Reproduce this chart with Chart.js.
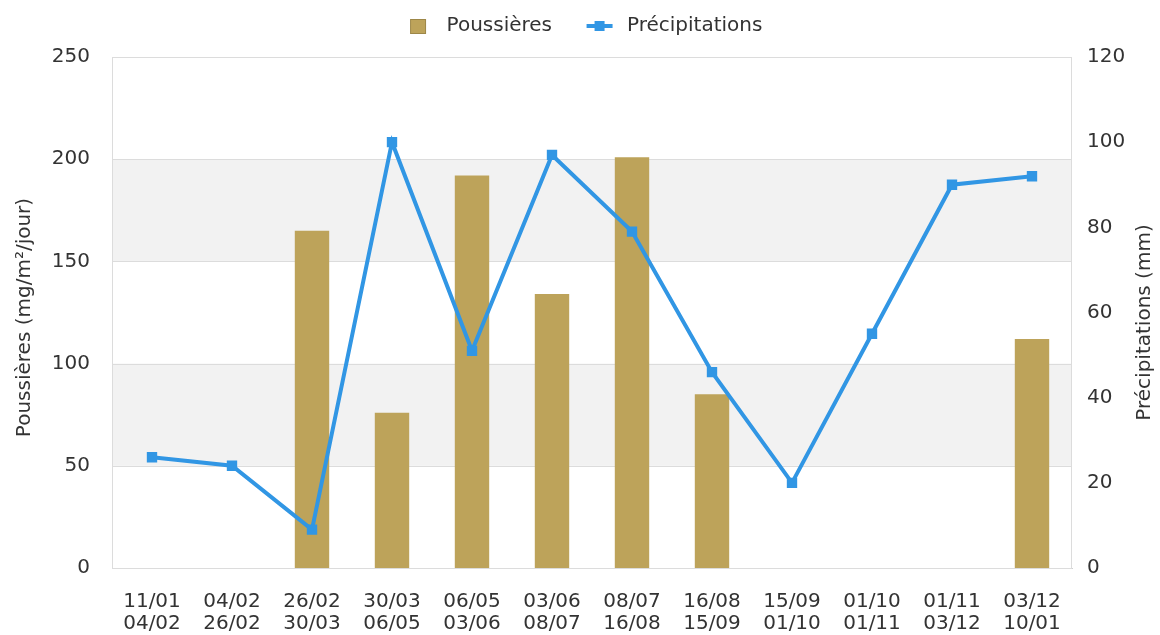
<!DOCTYPE html>
<html>
<head>
<meta charset="utf-8">
<script src="https://cdn.jsdelivr.net/npm/chart.js@4/dist/chart.umd.min.js"></script>
<style>
html,body{margin:0;padding:0;background:#fff;}
#wrap{width:1160px;height:635px;position:relative;}
</style>
</head>
<body>
<div id="wrap"><canvas id="c" width="1160" height="635"></canvas></div>
<script>
const categories = [
  ['11/01','04/02'], ['04/02','26/02'], ['26/02','30/03'], ['30/03','06/05'],
  ['06/05','03/06'], ['03/06','08/07'], ['08/07','16/08'], ['16/08','15/09'],
  ['15/09','01/10'], ['01/10','01/11'], ['01/11','03/12'], ['03/12','10/01']
];
const dustValues = [null, null, 165, 76, 192, 134, 201, 85, null, null, null, 112];
const rainValues = [26, 24, 9, 100, 51, 97, 79, 46, 20, 55, 90, 92];
const dustTicks = [0, 50, 100, 150, 200, 250];
const rainTicks = [0, 20, 40, 60, 80, 100, 120];
const dustLabel = 'Poussières';
const rainLabel = 'Précipitations';
const dustAxisTitle = 'Poussières (mg/m²/jour)';
const rainAxisTitle = 'Précipitations (mm)';

const BAR = '#bda35a';
const LINE = '#3196e4';
const TEXT = '#333';
const FONT = 'DejaVu Sans';
const FS = 20;

function legendIcon(kind) {
  const cv = document.createElement('canvas');
  const g = cv.getContext('2d');
  cv.width = 38; cv.height = 18;
  if (kind === 'bar') {
    g.fillStyle = BAR; g.fillRect(11, 2, 16, 15);
    g.strokeStyle = '#9d8748'; g.lineWidth = 1; g.strokeRect(11.5, 2.5, 15, 14);
  } else {
    g.strokeStyle = LINE; g.lineWidth = 4;
    g.beginPath(); g.moveTo(7, 9); g.lineTo(33, 9); g.stroke();
    g.fillStyle = LINE; g.fillRect(15, 4, 10, 10);
  }
  return cv;
}
const icons = { bar: legendIcon('bar'), line: legendIcon('line') };

const bandsPlugin = {
  id: 'bands',
  afterInit(chart) {
    const L = chart.legend;
    if (L && !L._wrapped) {
      const orig = L.fit.bind(L);
      L.fit = function () { orig(); this.height = 69; };
      L._wrapped = true;
    }
  },
  beforeDatasetsDraw(chart) {
    const ctx = chart.ctx, a = chart.chartArea, y = chart.scales.y;
    ctx.save();
    ctx.fillStyle = '#f2f2f2';
    for (let i = 1; i < dustTicks.length - 1; i += 2) {
      const top = y.getPixelForValue(dustTicks[i + 1]);
      const bot = y.getPixelForValue(dustTicks[i]);
      ctx.fillRect(a.left, top, a.right - a.left, bot - top);
    }
    ctx.strokeStyle = '#dcdcdc'; ctx.lineWidth = 1;
    dustTicks.forEach(v => {
      const p = Math.round(y.getPixelForValue(v)) + 0.5;
      ctx.beginPath(); ctx.moveTo(a.left, p); ctx.lineTo(a.right, p); ctx.stroke();
    });
    ctx.beginPath();
    ctx.moveTo(Math.round(a.left) + 0.5, a.top); ctx.lineTo(Math.round(a.left) + 0.5, a.bottom);
    ctx.moveTo(Math.round(a.right) - 0.5, a.top); ctx.lineTo(Math.round(a.right) - 0.5, a.bottom);
    ctx.stroke();
    ctx.restore();
  },
  afterDraw(chart) {
    const ctx = chart.ctx, a = chart.chartArea;
    const cy = (a.top + a.bottom) / 2 + 5;
    ctx.save();
    ctx.fillStyle = TEXT;
    ctx.font = FS + 'px "' + FONT + '"';
    ctx.textAlign = 'center'; ctx.textBaseline = 'middle';
    ctx.translate(25, cy); ctx.rotate(-Math.PI / 2);
    ctx.fillText(dustAxisTitle, 0, 0);
    ctx.restore();
    ctx.save();
    ctx.fillStyle = TEXT;
    ctx.font = FS + 'px "' + FONT + '"';
    ctx.textAlign = 'center'; ctx.textBaseline = 'middle';
    ctx.translate(1145, cy + 5); ctx.rotate(-Math.PI / 2);
    ctx.fillText(rainAxisTitle, 0, 0);
    ctx.restore();
  }
};

new Chart(document.getElementById('c'), {
  data: {
    labels: categories,
    datasets: [
      {
        type: 'line', label: rainLabel, data: rainValues, yAxisID: 'y1', order: 0,
        borderColor: LINE, backgroundColor: LINE, borderWidth: 4,
        pointStyle: 'rect', pointRadius: 4.5, pointHoverRadius: 4.5, tension: 0
      },
      {
        type: 'bar', label: dustLabel, data: dustValues, yAxisID: 'y', order: 1,
        backgroundColor: BAR, borderWidth: 0,
        categoryPercentage: 1.0, barPercentage: 0.43
      }
    ]
  },
  options: {
    responsive: false, animation: false,
    layout: { padding: { top: -12, left: 2, right: 0, bottom: 0 } },
    plugins: {
      tooltip: { enabled: false },
      legend: {
        position: 'top',
        labels: {
          usePointStyle: true,
          pointStyleWidth: 37,
          font: { family: FONT, size: FS }, color: TEXT,
          padding: 28,
          generateLabels(chart) {
            return [
              { text: dustLabel, pointStyle: icons.bar, datasetIndex: 1, fontColor: TEXT, lineWidth: 0, strokeStyle: 'transparent', fillStyle: BAR },
              { text: rainLabel, pointStyle: icons.line, datasetIndex: 0, fontColor: TEXT, lineWidth: 0, strokeStyle: 'transparent', fillStyle: LINE }
            ];
          }
        }
      }
    },
    scales: {
      x: {
        grid: { display: false, drawTicks: false },
        border: { display: true, color: '#d0d0d0' },
        ticks: { font: { family: FONT, size: FS, lineHeight: 1.1 }, color: TEXT, padding: 23, maxRotation: 0, autoSkip: false },
        afterFit(s) { s.height = 67; }
      },
      y: {
        position: 'left', min: 0, max: 250,
        afterBuildTicks(s) { s.ticks = dustTicks.map(v => ({ value: v })); },
        grid: { display: false, drawTicks: false },
        border: { display: false },
        ticks: { font: { family: FONT, size: FS }, color: TEXT, padding: 22 },
        afterFit(s) { s.width = 110; }
      },
      y1: {
        position: 'right', min: 0, max: 120,
        afterBuildTicks(s) { s.ticks = rainTicks.map(v => ({ value: v })); },
        grid: { display: false, drawTicks: false },
        border: { display: false },
        ticks: { font: { family: FONT, size: FS }, color: TEXT, padding: 15 },
        afterFit(s) { s.width = 88; }
      }
    }
  },
  plugins: [bandsPlugin]
});
</script>
</body>
</html>
